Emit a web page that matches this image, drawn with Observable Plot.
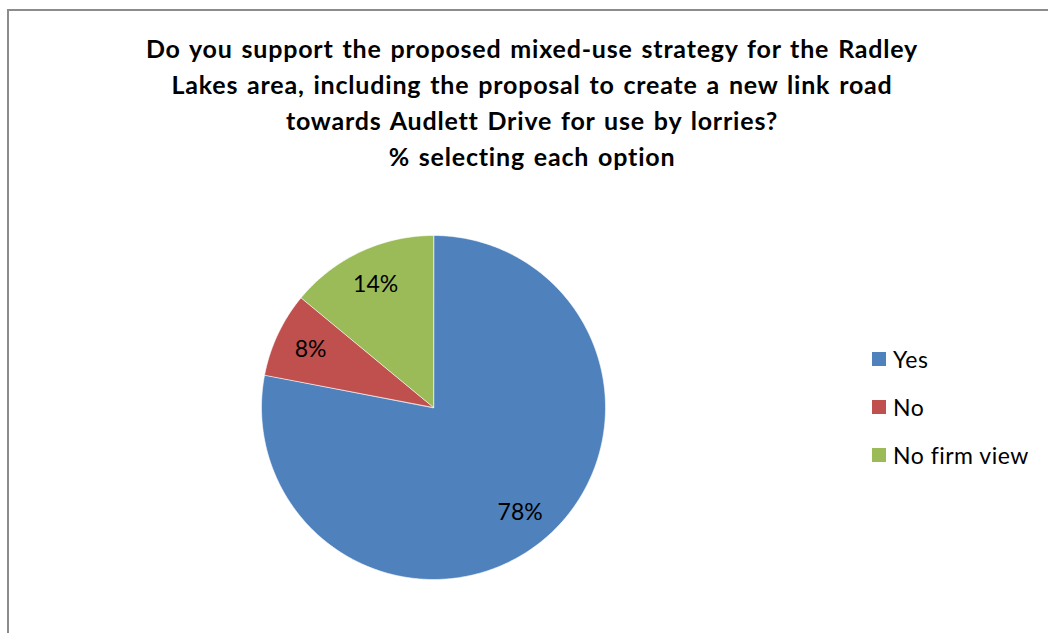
<!DOCTYPE html>
<html>
<head>
<meta charset="utf-8">
<script src="https://cdn.jsdelivr.net/npm/d3@7"></script>
<script src="https://cdn.jsdelivr.net/npm/@observablehq/plot@0.6"></script>
<style>
  html, body { margin: 0; padding: 0; background: #fff; }
  #page { position: relative; width: 1048px; height: 633px; overflow: hidden; font-family: Lato, "Open Sans", sans-serif; }
  #frame { position: absolute; left: 7px; top: 9px; width: 1100px; height: 700px; border-left: 2px solid #8c8c8c; border-top: 2px solid #8c8c8c; }
  #title { position: absolute; left: 0; top: 30px; width: 1064px; text-align: center; font-weight: bold; font-size: 25px; line-height: 36px; letter-spacing: 0.8px; word-spacing: 2px; color: #000; }
  #pie { position: absolute; left: 233px; top: 207px; }
  #legend { position: absolute; left: 872px; top: 344px; }
  .item { display: flex; align-items: center; height: 30px; margin-bottom: 18px; font-size: 23px; letter-spacing: 0.5px; color: #000; }
  .sw { width: 14px; height: 14px; margin-right: 7px; }
</style>
</head>
<body>
<div id="page">
  <div id="frame"></div>
  <div id="title"></div>
  <div id="pie"></div>
  <div id="legend"></div>
</div>
<script>
const titleLines = [
  "Do you support the proposed mixed-use strategy for the Radley",
  "Lakes area, including the proposal to create a new link road",
  "towards Audlett Drive for use by lorries?",
  "% selecting each option"
];
const categories = ["Yes", "No", "No firm view"];
const values = [78, 8, 14];
const labels = ["78%", "8%", "14%"];
const colors = ["#4F81BD", "#C0504D", "#9BBB59"];

document.getElementById("title").innerHTML = titleLines.map(t => `<div>${t}</div>`).join("");

const arcs = d3.pie().sort(null).startAngle(0).endAngle(2 * Math.PI)(values);
const polyPts = [];
arcs.forEach((a, i) => {
  polyPts.push({cat: categories[i], x: 0, y: 0});
  const n = Math.max(8, Math.ceil((a.endAngle - a.startAngle) / 0.01));
  for (let k = 0; k <= n; k++) {
    const t = a.startAngle + (a.endAngle - a.startAngle) * k / n;
    polyPts.push({cat: categories[i], x: Math.sin(t), y: Math.cos(t)});
  }
});
const labelPts = arcs.map((a, i) => {
  const m = (a.startAngle + a.endAngle) / 2;
  return {label: labels[i], x: 0.79 * Math.sin(m), y: 0.79 * Math.cos(m)};
});

const chart = Plot.plot({
  width: 400, height: 400, margin: 28,
  x: {domain: [-1, 1], axis: null},
  y: {domain: [-1, 1], axis: null},
  color: {domain: categories, range: colors},
  style: {fontFamily: "Lato, 'Open Sans', sans-serif", background: "transparent"},
  marks: [
    Plot.line(polyPts, {x: "x", y: "y", z: "cat", fill: "cat", stroke: "white", strokeWidth: 0.6, curve: "linear-closed"}),
    Plot.text(labelPts, {x: "x", y: "y", text: "label", fontSize: 23, fill: "#000"})
  ]
});
document.getElementById("pie").appendChild(chart);

document.getElementById("legend").innerHTML = categories.map((c, i) =>
  `<div class="item"><div class="sw" style="background:${colors[i]}"></div><span>${c}</span></div>`).join("");
</script>
</body>
</html>
